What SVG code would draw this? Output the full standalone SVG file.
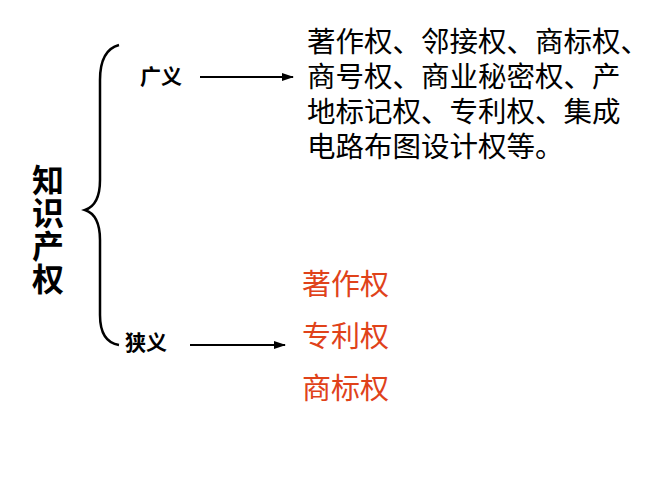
<svg xmlns="http://www.w3.org/2000/svg" width="667" height="500" viewBox="0 0 667 500">
<defs>
<marker id="ah" markerWidth="12" markerHeight="10" refX="11" refY="5" orient="auto" markerUnits="userSpaceOnUse"><path d="M0,1 L12,5 L0,9 Z" fill="#000"/></marker>
<style>
.t{font-family:"Liberation Sans","Noto Sans CJK SC",sans-serif;fill:#000}
.b{font-weight:bold;font-size:21px}
.m{font-size:28.5px}
.r{font-size:29px;fill:#e0421a}
.c{stroke:#000;stroke-width:2.5;fill:none}
</style>
</defs>
<rect width="667" height="500" fill="#fff"/>
<g id="root">
<text class="t" style="font-size:32px;font-weight:bold" x="32" y="192">知</text>
<text class="t" style="font-size:32px;font-weight:bold" x="32" y="225">识</text>
<text class="t" style="font-size:32px;font-weight:bold" x="32" y="258">产</text>
<text class="t" style="font-size:32px;font-weight:bold" x="32" y="291">权</text>
</g>
<g id="brace"><path class="c" d="M119,45 Q100,50 100,80 L100,180 Q100,205 85,210 Q100,215 100,240 L100,315 Q100,342 119,345"/></g>
<g id="broad">
<text class="t b" x="140" y="84">广义</text>
<text class="t m" x="307" y="52">著作权、邻接权、商标权、</text>
<text class="t m" x="307" y="87">商号权、商业秘密权、产</text>
<text class="t m" x="307" y="122">地标记权、专利权、集成</text>
<text class="t m" x="307" y="157">电路布图设计权等。</text>
</g>
<g id="narrow">
<text class="t b" x="125" y="350">狭义</text>
<text class="t r" x="302" y="295">著作权</text>
<text class="t r" x="302" y="347">专利权</text>
<text class="t r" x="302" y="399">商标权</text>
</g>
<g id="connectors">
<line class="c" style="stroke-width:2" x1="200" y1="77" x2="293" y2="77" marker-end="url(#ah)"/>
<line class="c" style="stroke-width:2" x1="190" y1="345" x2="285" y2="345" marker-end="url(#ah)"/>
</g>
</svg>
